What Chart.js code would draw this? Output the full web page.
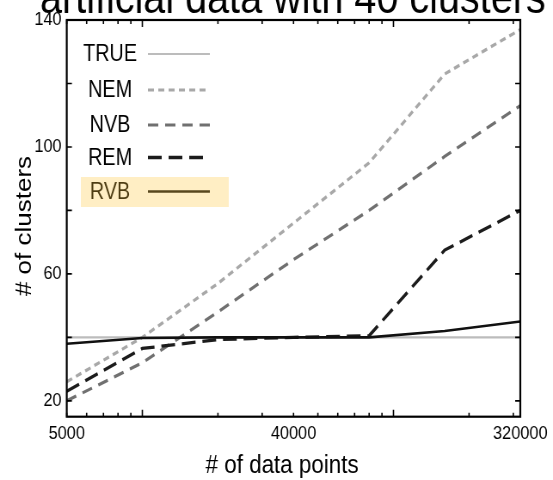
<!DOCTYPE html>
<html><head><meta charset="utf-8">
<script src="https://cdn.jsdelivr.net/npm/chart.js@4"></script>
<style>
html,body{margin:0;padding:0;background:#fff;overflow:hidden;}
#wrap{width:553px;height:480px;overflow:hidden;position:relative;background:#fff;}
#c{position:absolute;left:0;top:0;transform:scaleX(0.86);transform-origin:0 0;}
</style></head><body>
<div id="wrap"><canvas id="c" width="643" height="480"></canvas></div>
<script>
// ---- data ----
const dataPoints = [5000, 10000, 20000, 40000, 80000, 160000, 320000];
const trueValues = [40, 40, 40, 40, 40, 40, 40];
const nemValues  = [26, 40, 57, 76, 95, 123, 137];
const nvbValues  = [20, 32, 48, 64.5, 80, 97, 113];
const remValues  = [23, 36.5, 39.3, 40, 40.5, 67.5, 80];
const rvbValues  = [38, 39.8, 40, 40, 40, 42, 45];
const seriesNames = ['TRUE', 'NEM', 'NVB', 'REM', 'RVB'];
const xTickValues = [5000, 6000, 7000, 8000, 9000, 10000, 20000, 30000, 40000, 50000, 60000, 70000, 80000, 90000, 100000, 200000, 300000, 320000];
const xMajorTicks = [10000, 100000];
const xLabelValues = [5000, 40000, 320000];
const yTickValues = [20, 40, 60, 80, 100, 120, 140];
const yLabelValues = [20, 60, 100, 140];
const titleText = 'artificial data with 40 clusters';
const xTitle = '# of data points';
const yTitle = '# of clusters';
const highlighted = 'RVB';

// ---- styles ----
const FONT = '"Liberation Sans", Arial, sans-serif';
const styles = {
  TRUE: {color: '#bcbcbc', width: 2.2, dash: []},
  NEM:  {color: '#a8a8a8', width: 3.2, dash: [7, 5]},
  NVB:  {color: '#707070', width: 3.2, dash: [12, 8]},
  REM:  {color: '#1c1c1c', width: 3.3, dash: [16, 8]},
  RVB:  {color: '#111111', width: 2.6, dash: []}
};
const seriesValues = [trueValues, nemValues, nvbValues, remValues, rvbValues];

const datasets = seriesNames.map((name, i) => ({
  label: name,
  data: dataPoints.map((x, j) => ({x: x, y: seriesValues[i][j]})),
  borderColor: styles[name].color,
  borderWidth: styles[name].width,
  borderDash: styles[name].dash,
  pointRadius: 0,
  tension: 0,
  fill: false,
  order: seriesNames.length - i
}));

const legendRows = [54, 90, 125, 157.5, 191.5];

const framePlugin = {
  id: 'frame',
  afterDatasetsDraw(chart) {
    const {ctx, chartArea: a, scales: {x, y}} = chart;
    ctx.save();
    ctx.strokeStyle = '#000';
    ctx.lineWidth = 2.2;
    ctx.setLineDash([]);
    ctx.strokeRect(a.left, a.top, a.right - a.left, a.bottom - a.top);
    ctx.lineWidth = 1.6;
    ctx.beginPath();
    xTickValues.forEach(v => {
      const px = x.getPixelForValue(v);
      const len = xMajorTicks.includes(v) ? 7 : 4;
      ctx.moveTo(px, a.bottom); ctx.lineTo(px, a.bottom - len);
      ctx.moveTo(px, a.top); ctx.lineTo(px, a.top + len);
    });
    yTickValues.forEach(v => {
      const py = y.getPixelForValue(v);
      ctx.moveTo(a.left, py); ctx.lineTo(a.left + 6, py);
      ctx.moveTo(a.right, py); ctx.lineTo(a.right - 6, py);
    });
    ctx.stroke();
    ctx.restore();
  },
  afterDraw(chart) {
    const {ctx} = chart;
    ctx.save();
    // legend
    ctx.font = '23px ' + FONT;
    ctx.textAlign = 'center';
    ctx.textBaseline = 'middle';
    seriesNames.forEach((name, i) => {
      const yy = legendRows[i];
      ctx.fillStyle = '#000';
      ctx.fillText(name, 128, yy + 1);
      const st = styles[name];
      ctx.strokeStyle = st.color;
      ctx.lineWidth = st.width;
      ctx.setLineDash(st.dash);
      ctx.beginPath();
      ctx.moveTo(172, yy); ctx.lineTo(244, yy);
      ctx.stroke();
      if (name === highlighted) {
        ctx.fillStyle = 'rgba(255, 200, 60, 0.3)';
        ctx.fillRect(94, 177, 172, 30);
      }
    });
    ctx.setLineDash([]);
    // title (cut off at top)
    ctx.fillStyle = '#000';
    ctx.textAlign = 'left';
    ctx.textBaseline = 'alphabetic';
    ctx.font = '46px ' + FONT;
    ctx.fillText(titleText, 46.5, 12.5);
    // axis titles
    ctx.font = '26px ' + FONT;
    ctx.textAlign = 'center';
    ctx.fillText(xTitle, 328, 473);
    ctx.translate(36, 226);
    ctx.rotate(-Math.PI / 2);
    ctx.fillText(yTitle, 0, 0);
    ctx.restore();
  }
};

new Chart(document.getElementById('c'), {
  type: 'line',
  data: {datasets: datasets},
  options: {
    responsive: false,
    animation: false,
    devicePixelRatio: 1,
    events: [],
    layout: {padding: {top: 20, left: 0, right: 38, bottom: 0}},
    plugins: {legend: {display: false}, tooltip: {enabled: false}, title: {display: false}},
    scales: {
      x: {
        type: 'logarithmic',
        min: 5000, max: 320000,
        grid: {display: false, drawTicks: false},
        border: {display: false},
        afterBuildTicks(scale) { scale.ticks = xTickValues.map(v => ({value: v})); },
        afterFit(scale) { scale.height = 63.3; },
        ticks: {
          autoSkip: false, maxRotation: 0, minRotation: 0, padding: 6,
          color: '#000', font: {family: FONT, size: 19},
          callback: v => xLabelValues.includes(v) ? String(v) : ''
        }
      },
      y: {
        type: 'linear',
        min: 15, max: 140,
        grid: {display: false, drawTicks: false},
        border: {display: false},
        afterBuildTicks(scale) { scale.ticks = yTickValues.map(v => ({value: v})); },
        afterFit(scale) { scale.width = 77.6; },
        ticks: {
          autoSkip: false, padding: 6,
          color: '#000', font: {family: FONT, size: 19},
          callback: v => yLabelValues.includes(v) ? String(v) : ''
        }
      }
    }
  },
  plugins: [framePlugin]
});
</script>
</body></html>
